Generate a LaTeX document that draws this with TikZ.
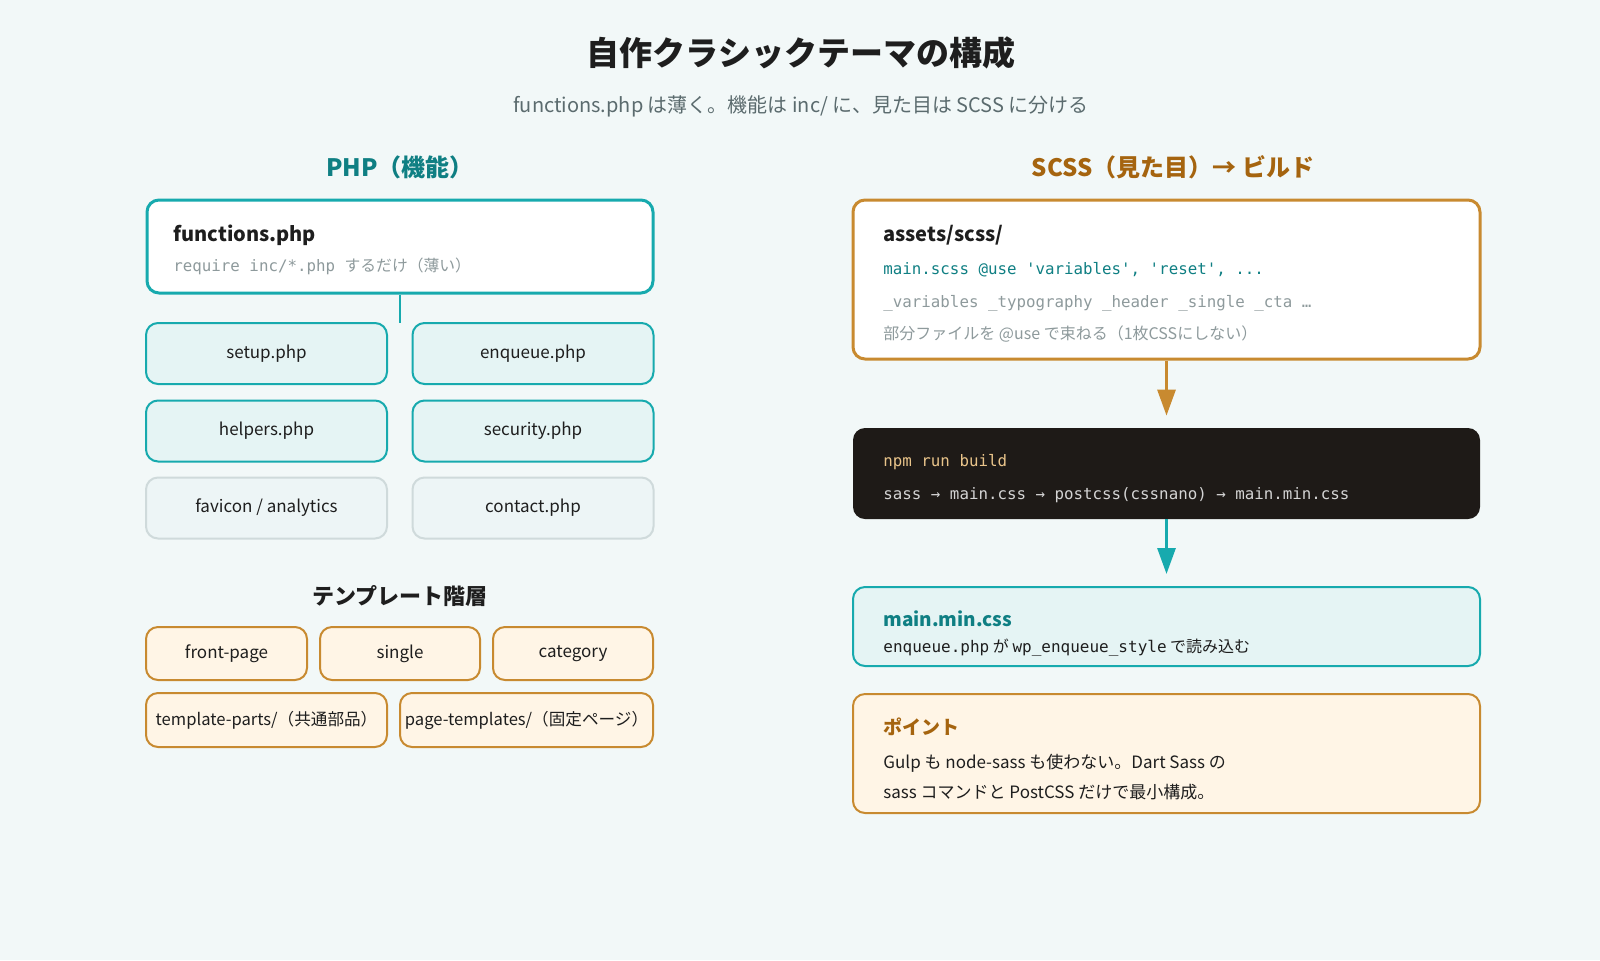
\documentclass[tikz,border=0pt]{standalone}
\usepackage{fontspec}
\setmainfont{Noto Sans CJK JP}
\setmonofont{DejaVu Sans Mono}
\usetikzlibrary{arrows.meta}
\definecolor{clrBg}      {HTML}{F2F8F8}
\definecolor{clrTeal}    {HTML}{17AAAE}
\definecolor{clrTealTxt} {HTML}{0F7F83}
\definecolor{clrTealBg}  {HTML}{E5F4F4}
\definecolor{clrGray}    {HTML}{CFDADB}
\definecolor{clrGrayBg}  {HTML}{EDF5F6}
\definecolor{clrOrg}     {HTML}{C88A30}
\definecolor{clrOrgTxt}  {HTML}{A5640F}
\definecolor{clrCream}   {HTML}{FFF5E6}
\definecolor{clrDark}    {HTML}{1E1A17}
\definecolor{clrNpm}     {HTML}{E9C48A}
\definecolor{clrPipe}    {HTML}{D4D4D4}
\definecolor{clrInk}     {HTML}{1E1E1E}
\definecolor{clrMute}    {HTML}{8E9A9C}
\definecolor{clrSub}     {HTML}{5B6B6E}
\tikzset{
  card/.style = {
    rectangle, rounded corners=6pt, inner sep=0pt,
    text=clrInk, font=\fontsize{8.5}{10}\selectfont,
  },
  phpbox/.style  = {card, draw=clrTeal, fill=clrTealBg, line width=1pt,
                    minimum width=120.5pt, minimum height=30.5pt},
  optbox/.style  = {phpbox, draw=clrGray, fill=clrGrayBg},
  tplbox/.style  = {card, draw=clrOrg, fill=clrCream, line width=1pt,
                    minimum height=26.5pt},
  wide/.style    = {card, minimum width=313.5pt},
  txt/.style     = {anchor=west, inner sep=0pt, text=clrInk},
  mono/.style    = {txt, font=\ttfamily\fontsize{7.9}{9}\selectfont},
  colhead/.style = {font=\bfseries\fontsize{12}{14}\selectfont},
  arr/.style     = {-{Triangle[length=13pt, width=9pt]}, line width=1.5pt,
                    shorten >=6pt},
}

\begin{document}
\begin{tikzpicture}[x=0.5pt, y=-0.5pt]

% background / page frame
\fill[clrBg] (0,0) rectangle (1600,960);
\useasboundingbox (0,0) rectangle (1600,960);

% ── Title ───────────────────────────────────────────────────────────────
\node[font=\bfseries\fontsize{16.5}{20}\selectfont, text=clrInk]
  (title) at (801,53) {自作クラシックテーマの構成};
\node[font=\fontsize{10}{12}\selectfont, text=clrSub]
  (subt) at (801,106) {functions.php は薄く。機能は inc/ に、見た目は SCSS に分ける};

% ══════════════════════════════════════════════════════════════════════════
%  LEFT COLUMN — PHP
% ══════════════════════════════════════════════════════════════════════════

\node[colhead, text=clrTealTxt] (phphd) at (400,167) {PHP（機能）};

\node[card, draw=clrTeal, fill=white, line width=1.5pt,
      minimum width=253pt, minimum height=46.5pt] (func) at (400,246.5) {};
\node[txt, font=\bfseries\fontsize{10}{12}\selectfont] (funct) at (173,235) {functions.php};
\node[mono, text=clrMute] (funcs) at (173,266)
  {require inc/*.php {\rmfamily するだけ（薄い）}};

\node[phpbox] (setup) at (266.5,353.5) {setup.php};
\node[phpbox] (enq)   at (533,  353.5) {enqueue.php};
\node[phpbox] (help)  at (266.5,431  ) {helpers.php};
\node[phpbox] (sec)   at (533,  431  ) {security.php};
\node[optbox] (fav)   at (266.5,508  ) {favicon / analytics};
\node[optbox] (cont)  at (533,  508  ) {contact.php};

% trunk down to the inc/ grid
\coordinate (trunk) at (400,323);
\draw[clrTeal, line width=1.2pt] (func.south) -- (trunk);

% ── Template hierarchy ──────────────────────────────────────────────────
\node[font=\bfseries\fontsize{11}{13}\selectfont, text=clrInk]
  (tplhd) at (400,596) {テンプレート階層};

\node[tplbox, minimum width=80.5pt] (front) at (226.5,653.5) {front-page};
\node[tplbox, minimum width=80pt]   (single) at (400, 653.5) {single};
\node[tplbox, minimum width=80pt]   (cat)    at (573, 653.5) {category};
\node[tplbox, minimum width=120.5pt, minimum height=27pt,
      font=\fontsize{8.3}{10}\selectfont]
  (parts) at (266.5,720) {template-parts/（共通部品）};
\node[tplbox, minimum width=126.5pt, minimum height=27pt,
      font=\fontsize{8.3}{10}\selectfont]
  (ptpl)  at (526.5,720) {page-templates/（固定ページ）};

% ══════════════════════════════════════════════════════════════════════════
%  RIGHT COLUMN — SCSS → build
% ══════════════════════════════════════════════════════════════════════════

\node[colhead, text=clrOrgTxt] (scsshd) at (1173,167) {SCSS（見た目）→ ビルド};

\node[wide, draw=clrOrg, fill=white, line width=1.5pt,
      minimum height=79.5pt] (scss) at (1166.5,279.5) {};
\node[txt, font=\bfseries\fontsize{10}{12}\selectfont] (scsst) at (883,235) {assets/scss/};
\node[mono, text=clrTealTxt] (scssa) at (883,270) {main.scss @use 'variables', 'reset', ...};
\node[mono, text=clrMute]    (scssb) at (883,303) {\_variables \_typography \_header \_single \_cta …};
\node[txt, text=clrMute, font=\fontsize{8}{10}\selectfont]
  (scssc) at (883,334) {部分ファイルを @use で束ねる（1枚CSSにしない）};

\node[wide, fill=clrDark, minimum height=45.5pt] (npm) at (1166.5,473.5) {};
\node[mono, text=clrNpm]  (npmt) at (883,462) {npm run build};
\node[mono, text=clrPipe] (npmp) at (883,495)
  {sass → main.css → postcss(cssnano) → main.min.css};

\node[wide, draw=clrTeal, fill=clrTealBg, line width=1pt,
      minimum height=39.5pt] (mincss) at (1166.5,626.5) {};
\node[txt, text=clrTealTxt, font=\bfseries\fontsize{9.5}{11}\selectfont]
  (mint) at (883,619) {main.min.css};
\node[txt, font=\fontsize{8}{10}\selectfont] (minl) at (883,648)
  {\texttt{enqueue.php} が \texttt{wp\_enqueue\_style} で読み込む};

\node[wide, draw=clrOrg, fill=clrCream, line width=1pt,
      minimum height=59.5pt] (point) at (1166.5,753.5) {};
\node[txt, text=clrOrgTxt, font=\bfseries\fontsize{9.5}{11}\selectfont]
  (ptt) at (883,727) {ポイント};
\node[txt, font=\fontsize{8.5}{10}\selectfont] (pta) at (883,763)
  {Gulp も node-sass も使わない。Dart Sass の};
\node[txt, font=\fontsize{8.5}{10}\selectfont] (ptb) at (883,792)
  {sass コマンドと PostCSS だけで最小構成。};

% ── Arrows ──────────────────────────────────────────────────────────────
\draw[arr, clrOrg]  (scss.south) -- (npm.north);
\draw[arr, clrTeal] (npm.south)  -- (mincss.north);

\end{tikzpicture}
\end{document}
